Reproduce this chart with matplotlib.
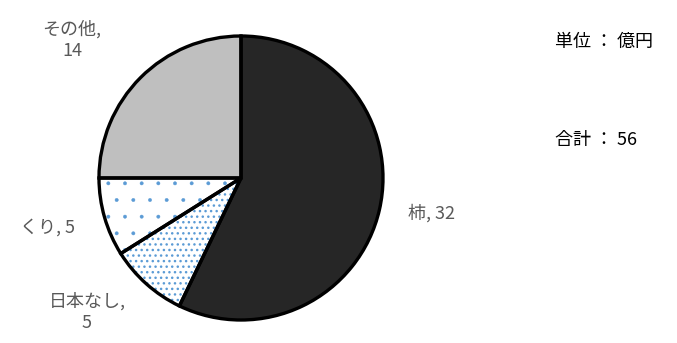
import matplotlib
matplotlib.use("Agg")
import matplotlib.pyplot as plt

plt.rcParams['font.family'] = ['Noto Sans CJK JP', 'DejaVu Sans']

# Sales by fruit (unit: 100 million yen)
labels = ['柿', '日本なし', 'くり', 'その他']
values = [32, 5, 5, 14]
colors = ['#262626', 'white', 'white', '#bfbfbf']
hatches = [None, '...', '.', None]
hatch_lw = [0, 1.0, 0.3, 0]
label_text = ['柿, 32', '日本なし,\n5', 'くり, 5', 'その他,\n14']
label_pos = [(431, 213), (87, 312), (48, 228), (72, 40)]  # pixel, from top-left

W, H = 677, 343
fig = plt.figure(figsize=(W / 100, H / 100), dpi=100)
r = 142
cx, cy = 241, 178
ax = fig.add_axes([(cx - r) / W, (H - cy - r) / H, 2 * r / W, 2 * r / H])

# fill + blue dot hatch first
wedges, _ = ax.pie(values, colors=colors, startangle=90, counterclock=False,
                   wedgeprops=dict(linewidth=0, edgecolor='#5b9bd5'))
for w, h, lw in zip(wedges, hatches, hatch_lw):
    if h:
        w.set_hatch(h)
        w.set_hatch_linewidth(lw)

# black outlines on top
ax.pie(values, colors=['none'] * len(values), startangle=90, counterclock=False,
       wedgeprops=dict(linewidth=2.4, edgecolor='black', fill=False))
ax.set_xlim(-1.0, 1.0)
ax.set_ylim(-1.0, 1.0)
ax.set_aspect('auto')

for txt, (px, py) in zip(label_text, label_pos):
    fig.text(px / W, 1 - py / H, txt, ha='center', va='center',
             fontsize=13, color='#595959', linespacing=1.25)

fig.text(555 / W, 1 - 42 / H, '単位 ： 億円', ha='left', va='center',
         fontsize=13, color='black')
fig.text(555 / W, 1 - 140 / H, '合計 ： 56', ha='left', va='center',
         fontsize=13, color='black')

fig.savefig('out.png', dpi=100)
